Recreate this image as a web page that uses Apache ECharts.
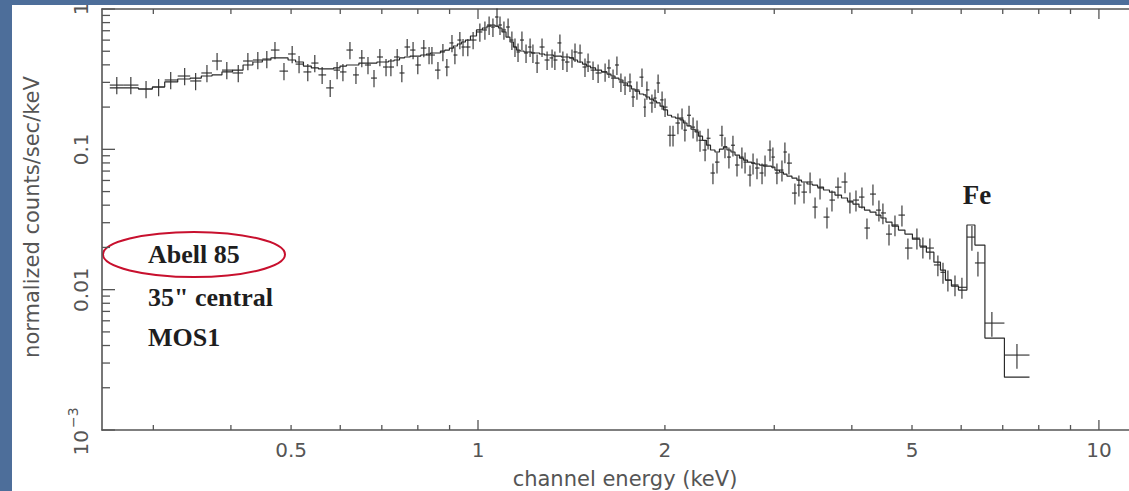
<!DOCTYPE html>
<html>
<head>
<meta charset="utf-8">
<script src="https://cdn.jsdelivr.net/npm/echarts@6/dist/echarts.min.js"></script>
<style>
html,body{margin:0;padding:0;background:#ffffff;}
#c{width:1129px;height:491px;}
</style>
</head>
<body>
<div id="c"></div>
<script>
// ---- data ----
const energy = [
0.262,0.276,0.292,0.306,0.320,0.337,0.351,0.366,0.380,0.394,
0.411,0.426,0.442,0.457,0.471,0.487,0.502,0.515,0.532,0.546,
0.561,0.578,0.593,0.606,0.622,0.636,0.650,0.665,0.680,0.695,
0.711,0.724,0.741,0.754,0.769,0.786,0.800,0.818,0.834,0.843,
0.862,0.878,0.891,0.908,0.918,0.935,0.946,0.963,0.982,1.007,
1.026,1.042,1.057,1.073,1.085,1.101,1.118,1.134,1.147,1.160,
1.177,1.195,1.213,1.226,1.245,1.268,1.292,1.316,1.330,1.355,
1.370,1.391,1.417,1.433,1.460,1.487,1.504,1.532,1.561,1.602,
1.625,1.650,1.674,1.699,1.725,1.757,1.777,1.803,1.837,1.857,
1.871,1.906,1.928,1.950,1.979,2.001,2.038,2.061,2.099,2.131,
2.154,2.187,2.220,2.253,2.278,2.321,2.347,2.390,2.426,2.471,
2.499,2.536,2.574,2.613,2.661,2.692,2.742,2.773,2.814,2.867,
2.899,2.953,2.985,3.030,3.087,3.121,3.168,3.239,3.287,3.350,
3.426,3.490,3.555,3.648,3.716,3.800,3.900,3.972,4.062,4.153,
4.231,4.326,4.423,4.489,4.591,4.694,4.817,4.925,5.092,5.206,
5.343,5.504,5.609,5.712,5.864,6.017,6.244,6.385,6.724,7.379
];
const rate = [
0.287,0.287,0.269,0.278,0.312,0.333,0.307,0.350,0.426,0.367,
0.350,0.426,0.433,0.440,0.510,0.361,0.478,0.405,0.356,0.412,
0.339,0.274,0.367,0.356,0.510,0.339,0.448,0.399,0.322,0.455,
0.386,0.386,0.455,0.350,0.536,0.510,0.399,0.527,0.470,0.470,
0.367,0.494,0.386,0.573,0.470,0.601,0.536,0.536,0.601,0.686,
0.709,0.769,0.744,0.877,0.769,0.709,0.744,0.601,0.536,0.494,
0.601,0.486,0.536,0.486,0.412,0.536,0.433,0.448,0.433,0.573,
0.433,0.419,0.448,0.494,0.486,0.386,0.419,0.367,0.350,0.356,
0.380,0.322,0.399,0.302,0.287,0.302,0.236,0.265,0.327,0.200,
0.265,0.214,0.232,0.297,0.225,0.200,0.126,0.126,0.154,0.167,
0.137,0.175,0.144,0.137,0.116,0.0989,0.120,0.0678,0.0811,0.126,
0.104,0.0881,0.107,0.0773,0.0881,0.0811,0.0656,0.0798,0.0736,0.0678,
0.0773,0.0989,0.0881,0.0678,0.0712,0.0957,0.0798,0.0488,0.0556,0.0496,
0.0585,0.0388,0.0530,0.0329,0.0435,0.0538,0.0585,0.0421,0.0435,0.0457,
0.0275,0.0480,0.0369,0.0352,0.0249,0.0289,0.0340,0.0198,0.0233,0.0201,
0.0198,0.0150,0.0133,0.0117,0.0108,0.0104,0.0237,0.0155,0.00578,0.00342
];
const rateErr = [
0.14,0.14,0.14,0.14,0.14,0.14,0.14,0.14,0.14,0.14,
0.14,0.14,0.14,0.14,0.14,0.14,0.14,0.14,0.14,0.14,
0.14,0.14,0.14,0.14,0.14,0.14,0.14,0.14,0.14,0.14,
0.14,0.14,0.14,0.14,0.14,0.14,0.14,0.14,0.14,0.14,
0.14,0.14,0.14,0.14,0.14,0.14,0.14,0.14,0.14,0.15,
0.15,0.15,0.15,0.15,0.15,0.15,0.15,0.15,0.15,0.15,
0.15,0.15,0.15,0.15,0.15,0.15,0.15,0.15,0.15,0.15,
0.15,0.15,0.15,0.15,0.15,0.15,0.15,0.15,0.15,0.15,
0.15,0.15,0.15,0.15,0.15,0.15,0.15,0.15,0.15,0.15,
0.15,0.15,0.15,0.15,0.15,0.15,0.17,0.17,0.17,0.17,
0.17,0.17,0.17,0.17,0.17,0.17,0.17,0.17,0.17,0.17,
0.17,0.17,0.17,0.17,0.17,0.17,0.17,0.17,0.17,0.17,
0.17,0.17,0.17,0.17,0.17,0.17,0.17,0.17,0.17,0.17,
0.17,0.17,0.17,0.17,0.17,0.17,0.17,0.17,0.17,0.17,
0.17,0.17,0.17,0.17,0.17,0.17,0.17,0.17,0.17,0.17,
0.17,0.17,0.17,0.17,0.17,0.17,0.20,0.20,0.20,0.20
];
const model = [
0.274,0.274,0.269,0.278,0.302,0.317,0.322,0.333,0.339,0.356,
0.367,0.399,0.419,0.433,0.448,0.448,0.433,0.419,0.392,0.380,
0.374,0.374,0.380,0.392,0.399,0.399,0.412,0.412,0.412,0.419,
0.419,0.426,0.433,0.448,0.455,0.462,0.462,0.470,0.478,0.486,
0.486,0.502,0.510,0.527,0.545,0.563,0.582,0.601,0.642,0.709,
0.732,0.756,0.769,0.756,0.732,0.686,0.631,0.582,0.536,0.510,
0.502,0.494,0.494,0.486,0.486,0.478,0.470,0.470,0.462,0.462,
0.455,0.455,0.448,0.433,0.419,0.405,0.392,0.380,0.367,0.356,
0.344,0.333,0.322,0.312,0.297,0.283,0.269,0.260,0.248,0.244,
0.236,0.228,0.221,0.214,0.203,0.191,0.175,0.170,0.167,0.162,
0.154,0.147,0.139,0.133,0.124,0.116,0.107,0.0989,0.0957,0.1005,
0.104,0.0989,0.0957,0.0910,0.0867,0.0839,0.0811,0.0798,0.0786,0.0773,
0.0760,0.0760,0.0748,0.0712,0.0689,0.0666,0.0645,0.0624,0.0604,0.0585,
0.0566,0.0556,0.0538,0.0513,0.0496,0.0472,0.0450,0.0428,0.0407,0.0388,
0.0369,0.0357,0.0340,0.0324,0.0303,0.0284,0.0266,0.0249,0.0229,0.0204,
0.0185,0.0157,0.0138,0.0117,0.0106,0.00993,0.0289,0.0208,0.00452,0.00238
];

const xRange = [0.248, 11.18];
const yRange = [0.001, 1];
const xMajorTicks = [1, 10];
const xMinorTicks = [0.3,0.4,0.5,0.6,0.7,0.8,0.9,2,3,4,5,6,7,8,9];
const xLabelValues = [0.5, 1, 2, 5, 10];
const xLabels = ['0.5', '1', '2', '5', '10'];
const yMajorTicks = [0.001, 0.01, 0.1, 1];
const yMinorTicks = [0.002,0.003,0.004,0.005,0.006,0.007,0.008,0.009,
                     0.02,0.03,0.04,0.05,0.06,0.07,0.08,0.09,
                     0.2,0.3,0.4,0.5,0.6,0.7,0.8,0.9];
const yLabels = ['10^−3', '0.01', '0.1', '1'];
const xTitle = 'channel energy (keV)';
const yTitle = 'normalized counts/sec/keV';
const notes = ['Abell 85', '35" central', 'MOS1'];
const lineLabel = 'Fe';

// ---- build ----
const INK = '#2a2a2a', AXIS = '#555555', LAB = '#555555';
const n = energy.length;
const edges = [];
for (let i = 1; i < n; i++) edges[i] = Math.sqrt(energy[i - 1] * energy[i]);
edges[0] = energy[0] * energy[0] / edges[1];
edges[n] = energy[n - 1] * energy[n - 1] / edges[n - 1];

const pointData = energy.map((e, i) => [e, rate[i], edges[i], edges[i + 1],
  rate[i] * (1 - rateErr[i]), rate[i] * (1 + rateErr[i])]);
const modelData = [];
energy.forEach((e, i) => { modelData.push([edges[i], model[i]]); modelData.push([edges[i + 1], model[i]]); });

function seg(x1, y1, x2, y2, w, c) {
  return { type: 'line', shape: { x1, y1, x2, y2 }, style: { stroke: c || INK, lineWidth: w || 1.1 } };
}
const TICKFONT = '20px "DejaVu Sans"';

const chart = echarts.init(document.getElementById('c'), null, { renderer: 'svg' });
const option = {
  animation: false,
  backgroundColor: '#ffffff',
  grid: { left: 102, top: 9, right: 0, bottom: 61, containLabel: false, outerBoundsMode: 'none' },
  xAxis: [
    { type: 'log', logBase: 10, min: xRange[0], max: xRange[1], position: 'bottom',
      axisLine: { show: true, onZero: false, lineStyle: { color: AXIS, width: 1.6 } },
      axisTick: { show: false }, axisLabel: { show: false }, splitLine: { show: false } },
    { type: 'log', logBase: 10, min: xRange[0], max: xRange[1], position: 'top',
      axisLine: { show: true, onZero: false, lineStyle: { color: AXIS, width: 1.6 } },
      axisTick: { show: false }, axisLabel: { show: false }, splitLine: { show: false } }
  ],
  yAxis: [
    { type: 'log', logBase: 10, min: yRange[0], max: yRange[1], position: 'left',
      axisLine: { show: true, onZero: false, lineStyle: { color: AXIS, width: 1.6 } },
      axisTick: { show: false }, axisLabel: { show: false }, splitLine: { show: false } }
  ],
  graphic: [
    { type: 'rect', shape: { x: 0, y: 0, width: 12, height: 491 }, style: { fill: '#4d6e9a' }, z: 100 },
    { type: 'rect', shape: { x: 0, y: 0, width: 1129, height: 5 }, style: { fill: '#4d6e9a' }, z: 100 },
    { type: 'text', x: 625, y: 479, style: { text: xTitle, font: '21px "DejaVu Sans"', fill: LAB, align: 'center', verticalAlign: 'middle' } },
    { type: 'text', x: 32, y: 217, rotation: Math.PI / 2, style: { text: yTitle, font: '21px "DejaVu Sans"', fill: LAB, align: 'center', verticalAlign: 'middle' } },
    { type: 'text', x: 148, y: 254, style: { text: notes[0], font: 'bold 26px "Liberation Serif"', fill: '#1e1e1e', align: 'left', verticalAlign: 'middle' } },
    { type: 'text', x: 148, y: 297, style: { text: notes[1], font: 'bold 26px "Liberation Serif"', fill: '#1e1e1e', align: 'left', verticalAlign: 'middle' } },
    { type: 'text', x: 148, y: 337, style: { text: notes[2], font: 'bold 26px "Liberation Serif"', fill: '#1e1e1e', align: 'left', verticalAlign: 'middle' } },
    { type: 'text', x: 977, y: 195, style: { text: lineLabel, font: 'bold 27px "Liberation Serif"', fill: '#1e1e1e', align: 'center', verticalAlign: 'middle' } },
    { type: 'ellipse', shape: { cx: 194, cy: 254.5, rx: 91, ry: 22.5 }, style: { fill: 'none', stroke: '#c8102e', lineWidth: 2 } }
  ],
  series: [
    { type: 'line', name: 'model', data: modelData, showSymbol: false, symbol: 'none', silent: true,
      lineStyle: { color: INK, width: 1.2 }, z: 3 },
    { type: 'custom', name: 'data', data: pointData, silent: true, z: 4,
      encode: { x: [0, 2, 3], y: [1, 4, 5] },
      renderItem(params, api) {
        const c = api.coord([api.value(0), api.value(1)]);
        const l = api.coord([api.value(2), api.value(1)]);
        const r = api.coord([api.value(3), api.value(1)]);
        const lo = api.coord([api.value(0), api.value(4)]);
        const hi = api.coord([api.value(0), api.value(5)]);
        return { type: 'group', children: [
          seg(l[0], c[1], r[0], c[1], 1.1),
          seg(c[0], hi[1], c[0], lo[1], 1.1)
        ] };
      } },
    { type: 'custom', name: 'xticks', silent: true, z: 5,
      data: xMajorTicks.map(v => [v, 0.1, 1]).concat(xMinorTicks.map(v => [v, 0.1, 0])),
      renderItem(params, api) {
        const cs = params.coordSys;
        const x = api.coord([api.value(0), api.value(1)])[0];
        const len = api.value(2) ? 10 : 5;
        const b = cs.y + cs.height, t = cs.y;
        return { type: 'group', children: [seg(x, b, x, b - len, 1.3, AXIS), seg(x, t, x, t + len, 1.3, AXIS)] };
      } },
    { type: 'custom', name: 'yticks', silent: true, z: 5,
      data: yMajorTicks.map(v => [1, v, 1]).concat(yMinorTicks.map(v => [1, v, 0])),
      renderItem(params, api) {
        const cs = params.coordSys;
        const y = api.coord([api.value(0), api.value(1)])[1];
        const len = api.value(2) ? 13 : 8;
        return seg(cs.x, y, cs.x + len, y, 1.3, AXIS);
      } },
    { type: 'custom', name: 'xlabels', silent: true, z: 5,
      data: xLabelValues.map(v => [v, 0.1]),
      renderItem(params, api) {
        const cs = params.coordSys;
        const x = api.coord([api.value(0), api.value(1)])[0];
        return { type: 'text', x: x, y: cs.y + cs.height + 20,
          style: { text: xLabels[params.dataIndex], font: TICKFONT, fill: LAB, align: 'center', verticalAlign: 'middle' } };
      } },
    { type: 'custom', name: 'ylabels', silent: true, z: 5,
      data: yMajorTicks.map(v => [1, v]),
      renderItem(params, api) {
        const cs = params.coordSys;
        const y = api.coord([api.value(0), api.value(1)])[1];
        const txt = yLabels[params.dataIndex];
        let children;
        if (txt.indexOf('^') >= 0) {
          const parts = txt.split('^');
          children = [
            { type: 'text', x: 0, y: 0, style: { text: parts[0], font: TICKFONT, fill: LAB, align: 'right', verticalAlign: 'middle' } },
            { type: 'text', x: 2, y: -8, style: { text: parts[1], font: '14px "DejaVu Sans"', fill: LAB, align: 'left', verticalAlign: 'middle' } }
          ];
        } else {
          children = [{ type: 'text', x: 0, y: 0, style: { text: txt, font: TICKFONT, fill: LAB, align: 'center', verticalAlign: 'middle' } }];
        }
        return { type: 'group', x: cs.x - 21, y: y, rotation: Math.PI / 2, children: children };
      } }
  ]
};
chart.setOption(option);
</script>
</body>
</html>
